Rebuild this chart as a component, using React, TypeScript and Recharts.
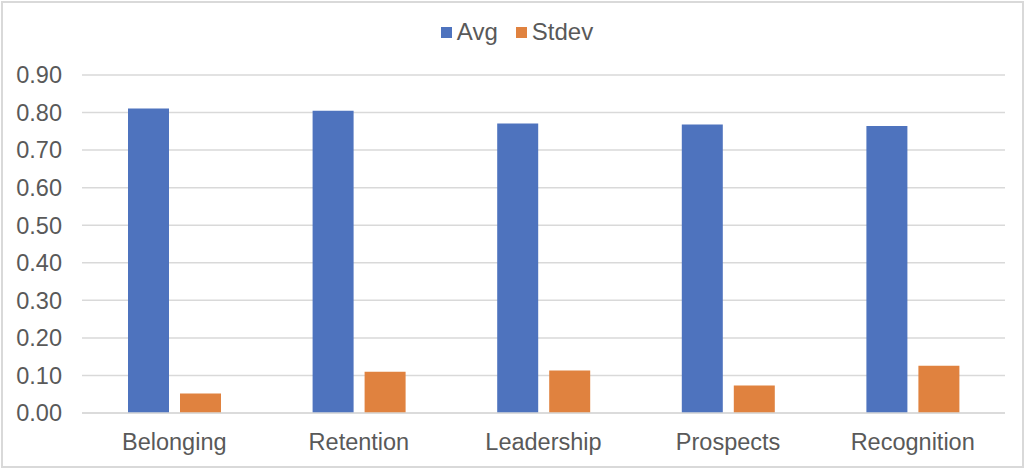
import React from 'react';
import { BarChart, Bar, XAxis, YAxis, CartesianGrid, Legend } from 'recharts';

const categories = ['Belonging', 'Retention', 'Leadership', 'Prospects', 'Recognition'];
const avgValues = [0.811, 0.805, 0.771, 0.768, 0.764];
const stdevValues = [0.052, 0.11, 0.113, 0.073, 0.126];
const yTicks = [0, 0.1, 0.2, 0.3, 0.4, 0.5, 0.6, 0.7, 0.8, 0.9];

const data = categories.map((name, i) => ({ name, Avg: avgValues[i], Stdev: stdevValues[i] }));

const BLUE = '#4E73BE';
const ORANGE = '#E0823F';
const TEXT = '#595959';
const GRID = '#d9d9d9';
const FONT = '"Liberation Sans", Arial, sans-serif';

const LegendContent = () => (
  <div style={{ display: 'flex', justifyContent: 'center', alignItems: 'center', fontFamily: FONT, fontSize: 24, color: TEXT, height: 26, paddingLeft: 8 }}>
    {[['Avg', BLUE], ['Stdev', ORANGE]].map(([label, color], i) => (
      <div key={label} style={{ display: 'flex', alignItems: 'center', marginLeft: i ? 18 : 0 }}>
        <div style={{ width: 11, height: 11, background: color, marginRight: 5 }} />
        <span>{label}</span>
      </div>
    ))}
  </div>
);

export default function App() {
  return (
    <div style={{ position: 'absolute', left: 0, top: 0, width: 1026, height: 470, background: '#fff' }}>
      <div style={{ position: 'absolute', left: 1, top: 1, width: 1023, height: 467, boxSizing: 'border-box', border: `2px solid ${GRID}` }} />
      <BarChart
        width={1026}
        height={470}
        data={data}
        margin={{ top: 49, right: 21, bottom: 17, left: 0 }}
        barSize={41}
        barGap={11}
        style={{ fontFamily: FONT }}
      >
        <CartesianGrid vertical={false} stroke={GRID} strokeWidth={1.5} />
        <XAxis
          dataKey="name"
          tickLine={false}
          axisLine={{ stroke: GRID, strokeWidth: 1.5 }}
          tick={{ fill: TEXT, fontSize: 23.5 }}
          tickMargin={14}
          height={40}
        />
        <YAxis
          domain={[0, 0.9]}
          ticks={yTicks}
          tickFormatter={(v: number) => v.toFixed(2)}
          tickLine={false}
          axisLine={false}
          tick={{ fill: TEXT, fontSize: 23.5 }}
          tickMargin={14}
          width={82}
          interval={0}
        />
        <Legend verticalAlign="top" height={26} content={<LegendContent />} wrapperStyle={{ top: 19, left: 0, width: 1026 }} />
        <Bar dataKey="Avg" fill={BLUE} isAnimationActive={false} />
        <Bar dataKey="Stdev" fill={ORANGE} isAnimationActive={false} />
      </BarChart>
    </div>
  );
}
